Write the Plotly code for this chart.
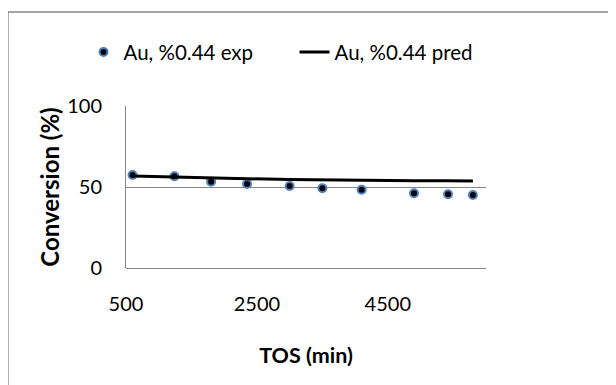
import plotly.graph_objects as go

tos_exp = [600, 1240, 1800, 2350, 3000, 3500, 4100, 4900, 5420, 5800]
conv_exp = [57.4, 56.6, 53.3, 51.9, 50.6, 49.2, 48.3, 46.1, 45.5, 45.1]
tos_pred = [600, 1240, 1800, 2350, 3000, 3500, 4100, 4900, 5420, 5800]
conv_pred = [56.8, 56.1, 55.6, 55.1, 54.7, 54.4, 54.1, 53.9, 53.8, 53.7]

x_ticks = [500, 2500, 4500]
y_ticks = [0, 50, 100]

FONT = "Lato"

fig = go.Figure()
fig.add_trace(go.Scatter(
    x=tos_exp, y=conv_exp, mode="markers", name="Au, %0.44 exp",
    marker=dict(size=8, color="black", line=dict(color="#4F81BD", width=2)),
))
fig.add_trace(go.Scatter(
    x=tos_pred, y=conv_pred, mode="lines", name="Au, %0.44 pred",
    line=dict(color="black", width=3),
))

fig.update_layout(
    width=616, height=385,
    margin=dict(l=118, r=138, t=98, b=125, autoexpand=False),
    paper_bgcolor="white", plot_bgcolor="white",
    font=dict(family=FONT, size=20, color="black"),
    showlegend=True,
    legend=dict(orientation="h", x=-0.118, y=1.333, xanchor="left", yanchor="middle",
                font=dict(size=20.5), bgcolor="rgba(0,0,0,0)",
                entrywidth=166, tracegroupgap=0),
    shapes=[dict(type="rect", xref="paper", yref="paper",
                 x0=-0.328, x1=1.5, y0=-1.0, y1=1.580,
                 line=dict(color="#868686", width=1.5))],
)
fig.update_xaxes(
    range=[500, 6000], tickvals=x_ticks, ticktext=[str(v) for v in x_ticks],
    showgrid=False, zeroline=False, showline=False,
    ticks="", ticklabelstandoff=22, tickfont=dict(size=20),
    title=dict(text="<b>TOS (min)</b>", font=dict(size=21.5), standoff=33),
)
fig.update_yaxes(
    range=[0, 100], tickvals=y_ticks, ticktext=[str(v) for v in y_ticks],
    showgrid=True, gridcolor="#868686", gridwidth=1,
    zeroline=True, zerolinecolor="#868686", zerolinewidth=1,
    showline=True, linecolor="#868686", linewidth=1,
    ticks="", ticklabelstandoff=19, tickfont=dict(size=20),
    title=dict(text="<b>Conversion (%)</b>", font=dict(size=24), standoff=0),
)

fig.write_html("out.html")
